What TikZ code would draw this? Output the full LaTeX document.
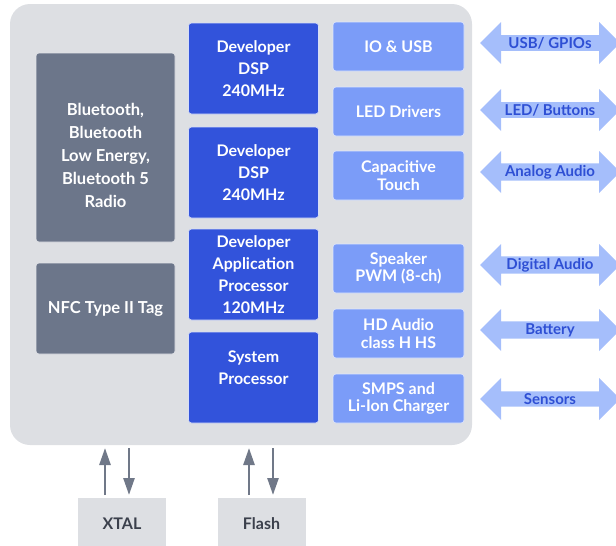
\documentclass[tikz,border=0pt]{standalone}
\usepackage{fontspec}
\setmainfont{Lato}
\usetikzlibrary{shapes.arrows, arrows.meta, positioning}
\definecolor{chipgray}{RGB}{221,223,227}
\definecolor{radiogray}{RGB}{108,118,138}
\definecolor{coreblue}{RGB}{50,83,219}
\definecolor{periblue}{RGB}{123,156,248}
\definecolor{portblue}{RGB}{165,190,251}
\definecolor{porttext}{RGB}{46,79,212}
\definecolor{pingray}{RGB}{112,120,136}
\definecolor{extgray}{RGB}{59,64,76}

\begin{document}
\begin{tikzpicture}[
    x=1pt, y=-1pt,
    every node/.style={font=\fontsize{16}{22}\selectfont\bfseries, inner sep=0pt, outer sep=0pt},
    chip/.style={rectangle, rounded corners=20pt, fill=chipgray,
                 minimum width=462pt, minimum height=441pt},
    radio/.style={rectangle, rounded corners=3pt, fill=radiogray, draw=white!80!radiogray,
                  line width=0.6pt, text=white, minimum width=139pt, align=center,
                  font=\fontsize{16.5}{23}\selectfont\bfseries},
    core/.style={rectangle, rounded corners=3pt, fill=coreblue, draw=white!80!coreblue,
                 line width=0.6pt, text=white, minimum width=130pt, minimum height=91pt, align=center},
    peri/.style={rectangle, rounded corners=3pt, fill=periblue, draw=white!75!periblue,
                 line width=0.6pt, text=white, minimum width=131pt, minimum height=49pt, align=center,
                 font=\fontsize{16}{17.5}\selectfont\bfseries},
    port/.style={double arrow, double arrow head extend=10pt, double arrow head indent=0pt,
                 fill=portblue, text=porttext, minimum height=140pt, minimum width=42pt,
                 font=\fontsize{15}{18}\selectfont\bfseries},
    ext/.style={rectangle, fill=chipgray, text=extgray, minimum width=88pt, minimum height=52pt},
    pin/.style={-{Triangle[length=17pt, width=11pt]}, line width=2.6pt, pingray,
                shorten <=3pt, shorten >=3pt}
]
\useasboundingbox (0,0) rectangle (616,546);
\node[chip] (chip) at (241,224.5) {};

% radio side
\node[radio, minimum height=189pt] (bt) at (105.5,147.5) {};
\node[text=white, align=center, font=\fontsize{16.5}{23}\selectfont\bfseries]
    at ([yshift=-8pt]bt.center) {Bluetooth,\\Bluetooth\\Low Energy,\\Bluetooth 5\\Radio};
\node[radio, minimum height=91pt, below=21pt of bt] (nfc) {NFC Type II Tag};

% processors
\node[core] (dsp1) at (253.5,68.5) {Developer\\DSP\\240MHz};
\node[core, below=13pt of dsp1] (dsp2) {Developer\\DSP\\240MHz};
\node[core, below=11pt of dsp2] (app) {Developer\\Application\\Processor\\120MHz};
\node[core, below=12pt of app] (sys) {};
\node[text=white, align=center] at ([yshift=10pt]sys.center) {System\\Processor};

% peripherals
\node[peri] (io) at (398.5,46.5) {IO \& USB};
\node[peri, below=16pt of io] (led) {LED Drivers};
\node[peri, below=15pt of led] (touch) {Capacitive\\Touch};
\node[peri, below=44pt of touch] (spk) {Speaker\\PWM (8-ch)};
\node[peri, below=16pt of spk] (hda) {HD Audio\\class H HS};
\node[peri, below=16pt of hda] (smps) {SMPS and\\Li-Ion Charger};

% external ports
\node[port] (usb) at (550,43) {USB/ GPIOs};
\node[port] (btn) at (550,110) {LED/ Buttons};
\node[port] (ana) at (550,172) {Analog Audio};
\node[port] (dig) at (550,265) {Digital Audio};
\node[port] (bat) at (550,330) {Battery};
\node[port] (sens) at (550,399) {Sensors};

% external parts
\node[ext] (xtal) at (122,524) {XTAL};
\node[ext] (flash) at (261.5,524) {Flash};
\draw[pin] ([xshift=-17pt]xtal.north) -- ([xshift=-17pt]xtal.north |- chip.south);
\draw[pin] ([xshift=7pt]xtal.north |- chip.south) -- ([xshift=7pt]xtal.north);
\draw[pin] ([xshift=-12.5pt]flash.north) -- ([xshift=-12.5pt]flash.north |- chip.south);
\draw[pin] ([xshift=11.5pt]flash.north |- chip.south) -- ([xshift=11.5pt]flash.north);
\end{tikzpicture}
\end{document}
